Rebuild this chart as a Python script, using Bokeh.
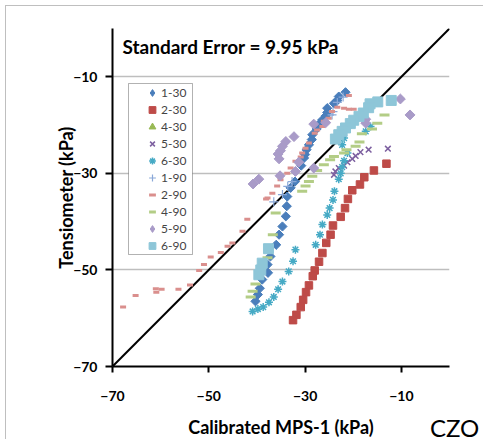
import numpy as np
from bokeh.plotting import figure
from bokeh.models import (Range1d, Legend, LegendItem, Label, BoxAnnotation,
                          FixedTicker, ColumnDataSource, Div)
from bokeh.layouts import column
from bokeh.embed import file_html
from bokeh.resources import INLINE

# ---------------- data (kPa) ----------------
x_1_30 = [-21.6, -23.0, -23.3, -24.0, -25.4, -25.4, -25.7, -26.4, -27.1, -27.6, -28.5, -28.6,
          -29.2, -29.7, -30.0, -30.2, -30.8, -32.1, -33.0, -33.7, -33.8, -34.0, -34.7, -35.4,
          -36.0, -37.2, -37.8, -37.7, -38.9, -39.4, -39.8, -40.3]
y_1_30 = [-13.2, -14.1, -14.9, -15.5, -16.5, -17.4, -18.1, -18.9, -19.8, -20.8, -22.0, -23.0,
          -24.1, -25.1, -26.1, -26.8, -28.4, -31.7, -33.0, -34.8, -36.8, -38.9, -41.0, -42.7,
          -44.8, -47.2, -48.9, -50.6, -52.0, -53.8, -55.1, -56.5]

x_2_30 = [-13.1, -15.7, -17.7, -18.6, -20.2, -21.1, -21.7, -22.6, -24.2, -24.7, -25.6, -26.4,
          -27.1, -28.0, -28.4, -29.2, -29.8, -30.4, -30.9, -31.8, -32.5]
y_2_30 = [-28.0, -29.4, -30.8, -32.3, -33.5, -35.3, -37.2, -39.0, -40.8, -42.7, -44.4, -46.5,
          -48.3, -50.1, -51.3, -53.2, -54.6, -56.2, -57.7, -59.3, -60.4]

# hidden beneath the 6-90 squares in the reference
x_4_30 = [-16.8, -19.9, -22.3]
y_4_30 = [-16.4, -19.0, -21.3]

x_5_30 = [-12.8, -16.8, -18.5, -19.5, -20.2, -21.2, -21.9, -23.0, -23.7, -24.0]
y_5_30 = [-24.9, -25.1, -25.6, -26.4, -27.0, -27.7, -28.4, -28.9, -29.6, -30.3]

x_6_30 = [-16.4, -17.4, -21.9, -22.3, -21.2, -21.9, -22.3, -22.6, -23.0, -23.9, -24.2, -24.9,
          -25.4, -26.4, -26.9, -27.8, -32.0, -32.5, -33.4, -34.7, -35.6, -36.5, -37.5, -38.7,
          -39.8, -40.9]
y_6_30 = [-20.3, -21.3, -22.7, -24.1, -25.8, -27.4, -28.7, -30.0, -31.2, -33.7, -35.5, -37.2,
          -38.6, -40.6, -42.7, -44.8, -45.8, -48.2, -50.3, -52.4, -54.0, -55.6, -56.7, -57.7,
          -58.1, -58.6]

x_1_90 = [-22.1, -23.3, -24.2, -24.4, -32.7, -33.6, -34.7, -36.5]
y_1_90 = [-14.2, -15.3, -17.2, -17.9, -31.7, -32.7, -34.4, -35.9]

x_2_90 = [-67.8, -65.2, -61.0, -60.9, -59.8, -56.3, -53.9, -52.0, -51.0, -49.6, -47.5, -46.1,
          -45.1, -43.0, -42.0, -38.1, -37.8, -36.8, -35.8, -35.1, -33.7, -33.0, -32.0, -30.9,
          -30.6, -29.9, -29.2, -28.0, -27.5, -26.4, -26.1, -25.1, -24.4, -23.3, -21.9, -20.9,
          -19.9, -20.9]
y_2_90 = [-57.7, -55.3, -53.9, -54.6, -54.0, -54.0, -53.1, -50.1, -48.9, -47.3, -46.4, -45.1,
          -44.4, -42.0, -39.5, -35.3, -35.1, -34.1, -32.6, -31.3, -30.0, -28.9, -27.5, -26.6,
          -25.8, -24.8, -23.7, -21.7, -21.0, -20.3, -19.2, -18.6, -17.2, -16.3, -16.5, -16.7,
          -16.7, -13.9]

x_4_90 = [-13.5, -15.0, -16.1, -18.2, -18.7, -19.5, -21.4, -21.9, -24.0, -24.8, -26.1, -27.5,
          -28.5, -29.2, -29.9, -30.6, -36.1, -36.7, -37.8, -40.3, -40.9, -41.3]
y_4_90 = [-17.9, -19.6, -20.8, -21.8, -23.5, -24.4, -25.1, -25.8, -26.5, -27.2, -28.2, -29.4,
          -30.6, -31.7, -32.6, -33.7, -38.2, -42.7, -47.5, -52.9, -54.4, -55.6]

x_5_90 = [-10.2, -8.2, -17.4, -17.4, -25.7, -28.2, -32.3, -34.0, -34.7, -35.1, -35.6, -35.4,
          -31.3, -28.2, -32.0, -35.2, -39.6, -40.8]
y_5_90 = [-14.6, -17.9, -18.8, -19.6, -19.5, -19.8, -22.4, -23.4, -24.4, -25.3, -26.0, -27.0,
          -27.7, -28.9, -29.6, -30.5, -31.2, -32.2]

x_6_90 = [-12.1, -14.9, -16.5, -16.8, -17.9, -18.8, -19.9, -20.6, -21.6, -22.3, -23.0, -23.7,
          -37.6, -38.9, -39.2, -39.6]
y_6_90 = [-14.9, -15.2, -15.6, -16.4, -17.5, -18.2, -19.0, -19.7, -20.6, -21.3, -22.0, -22.9,
          -45.6, -48.6, -50.0, -51.0]

one_to_one = [-70, 0]
axis_ticks = [-70, -50, -30, -10]
series_names = ["1-30", "2-30", "4-30", "5-30", "6-30", "1-90", "2-90", "4-90", "5-90", "6-90"]
title_text = "Standard Error = 9.95 kPa"
x_title = "Calibrated MPS-1 (kPa)"
y_title = "Tensiometer (kPa)"
corner_text = "CZO"

# ---------------- styles ----------------
FONT = "Lato"
styles = {
    "1-30": dict(marker="square", color="#4A7EBB", size=6.5, lw=1, angle=np.pi / 4, legend_marker="diamond"),
    "2-30": dict(marker="square", color="#BE4B48", size=7.5, lw=1, angle=0),
    "4-30": dict(marker="triangle", color="#98B954", size=7, lw=1, angle=0),
    "5-30": dict(marker="x", color="#7D60A0", size=8, lw=1.5, angle=0),
    "6-30": dict(marker="asterisk", color="#46AAC5", size=8, lw=1.5, angle=0),
    "1-90": dict(marker="cross", color="#8AA8D8", size=9, lw=1.2, angle=0),
    "2-90": dict(marker="dash", color="#DA8F8D", size=6, lw=3, angle=0),
    "4-90": dict(marker="dash", color="#B3CD86", size=10, lw=3, angle=0),
    "5-90": dict(marker="square", color="#A99BC8", size=7, lw=1, angle=np.pi / 4, legend_marker="diamond"),
    "6-90": dict(marker="square", color="#8EC6D8", size=10, lw=1, angle=0),
}
data = {
    "1-30": (x_1_30, y_1_30), "2-30": (x_2_30, y_2_30), "4-30": (x_4_30, y_4_30),
    "5-30": (x_5_30, y_5_30), "6-30": (x_6_30, y_6_30), "1-90": (x_1_90, y_1_90),
    "2-90": (x_2_90, y_2_90), "4-90": (x_4_90, y_4_90), "5-90": (x_5_90, y_5_90),
    "6-90": (x_6_90, y_6_90),
}

p = figure(width=478, height=434, output_backend="svg", toolbar_location=None,
           x_range=Range1d(-70, 0), y_range=Range1d(-70, 0),
           min_border_left=106, min_border_right=35, min_border_top=22, min_border_bottom=67)
p.margin = (5, 0, 0, 5)
p.styles = {"border-top": "1px solid #BFBFBF", "border-left": "1px solid #BFBFBF"}
p.outline_line_color = None
p.background_fill_color = "white"
p.border_fill_color = "white"

# axes
for ax in (p.xaxis[0], p.yaxis[0]):
    ax.ticker = FixedTicker(ticks=axis_ticks)
    ax.axis_line_color = "black"
    ax.axis_line_width = 2
    ax.major_tick_line_color = "black"
    ax.major_tick_line_width = 2
    ax.major_tick_in = 0
    ax.minor_tick_line_color = None
    ax.major_label_text_font = FONT
    ax.major_label_text_font_style = "bold"
    ax.major_label_text_font_size = "14px"
    ax.major_label_text_color = "black"
    ax.axis_label_text_font = FONT
    ax.axis_label_text_font_style = "bold"
    ax.axis_label_text_font_size = "18px"
    ax.axis_label_text_color = "black"
p.xaxis.axis_label = x_title
p.yaxis.axis_label = y_title
p.xaxis.major_tick_out = 6
p.yaxis.major_tick_out = 7
p.xaxis.major_label_standoff = 18
p.xaxis.axis_label_standoff = 12
p.yaxis.major_label_standoff = 8
p.yaxis.axis_label_standoff = -7

p.xgrid.grid_line_color = None
p.ygrid.ticker = FixedTicker(ticks=axis_ticks)
p.ygrid.grid_line_color = "#BEBEBE"
p.ygrid.grid_line_width = 1.5

# 1:1 line
p.line(one_to_one, one_to_one, line_color="black", line_width=2)

items = []
for name in series_names:
    xs, ys = data[name]
    st = styles[name]
    src = ColumnDataSource(dict(x=xs, y=ys))
    r = p.scatter("x", "y", source=src, marker=st["marker"], size=st["size"],
                  angle=st["angle"], fill_color=st["color"], line_color=st["color"],
                  line_width=st["lw"])
    if "legend_marker" in st:
        # legend swatch (legend swatches ignore marker rotation)
        r = p.scatter("x", "y", source=src, marker=st["legend_marker"], size=st["size"],
                      fill_color=st["color"], line_color=st["color"], visible=False)
    items.append(LegendItem(label=name, renderers=[r]))

# legend frame
p.add_layout(BoxAnnotation(left=16, right=80, bottom=112, top=283,
                           left_units="screen", right_units="screen",
                           bottom_units="screen", top_units="screen",
                           fill_color="white", fill_alpha=1,
                           line_color="black", line_width=1))

legend = Legend(items=items, location=(31, 112), padding=0, spacing=0,
                label_height=17, glyph_height=17, glyph_width=18, label_standoff=-3,
                margin=0, border_line_color=None, background_fill_alpha=0,
                label_text_font=FONT, label_text_font_size="12px")
p.add_layout(legend, "center")

p.add_layout(Label(x=10, y=320, x_units="screen", y_units="screen", text=title_text,
                   text_font=FONT, text_font_style="bold", text_font_size="19px",
                   text_baseline="middle", text_color="black"))

czo = Div(text=corner_text, width=56, height=26,
          styles={"position": "absolute", "left": "425px", "top": "411px",
                  "font-family": FONT, "font-size": "24px", "line-height": "1",
                  "color": "black", "z-index": "10", "overflow": "visible"})

root = column(p, czo)
open("out.html", "w").write(file_html(root, INLINE))
